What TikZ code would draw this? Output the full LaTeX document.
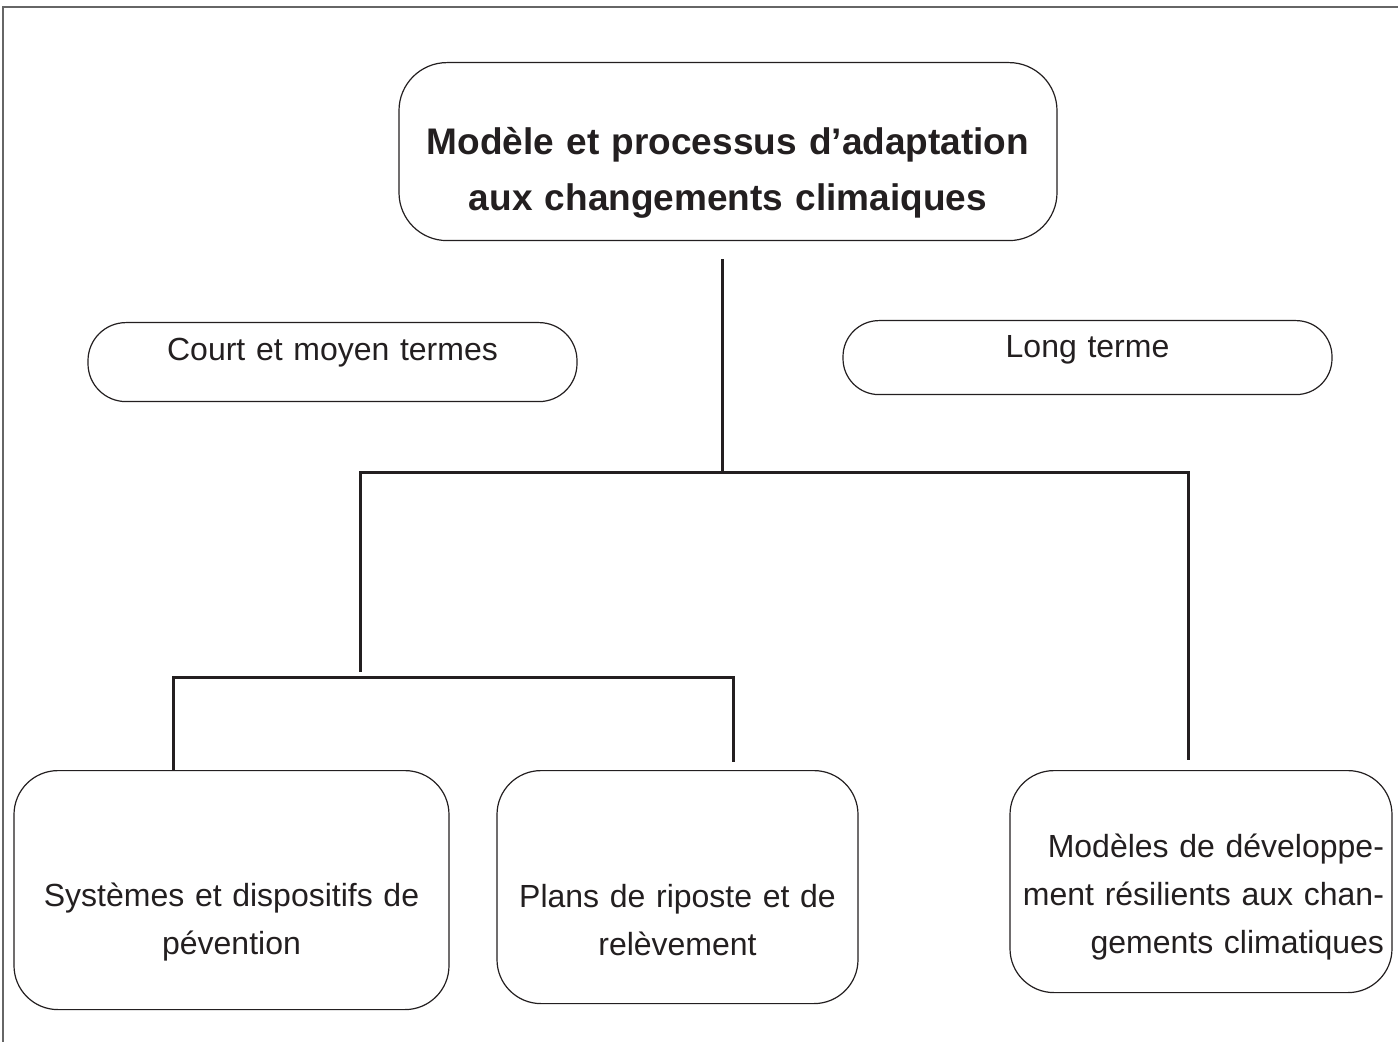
\documentclass[tikz,border=0pt]{standalone}
\usepackage{fontspec}
\setmainfont{Liberation Sans}
\usepackage{tikz}
\usetikzlibrary{calc,positioning}
\definecolor{ink}{HTML}{231F20}
\tikzset{>=latex}
\tikzset{
  frame/.style={draw=black!60, line width=1pt},
  link/.style={draw=ink, line width=1.5pt},
  box/.style={draw=ink, text=ink, line width=0.6pt, rounded corners=22pt,
    inner xsep=4pt, inner ysep=0pt, anchor=north, align=center,
    font=\fontsize{16}{24}\selectfont},
}

\begin{document}
\begin{tikzpicture}[x=0.5pt,y=-0.5pt]
    \useasboundingbox (0,0) rectangle (1398,1042);
    \draw[frame] (3,1042) -- (3,7) -- (1398,7);
    % boxes
    \node[box, rounded corners=24pt, text width=321pt, text height=46pt, text depth=43pt,
      font=\fontsize{18.5}{28}\selectfont\bfseries] (title) at (728,62)
      {Modèle et processus d’adaptation\\ aux changements climaiques};
    \node[box, rounded corners=19pt, text width=236.5pt, text height=19pt, text depth=20.5pt] (court) at (332.5,322)
      {Court et moyen termes};
    \node[box, rounded corners=18pt, text width=236.5pt, text height=18.5pt, text depth=18.5pt] (long) at (1087.5,320)
      {Long terme};
    \node[box, text width=209.5pt, text height=68pt, text depth=51.5pt] (sys) at (231.5,770)
      {Systèmes et dispositifs de\\ pévention};
    \node[box, text width=172.5pt, text height=68.5pt, text depth=48pt] (plans) at (677.5,770)
      {Plans de riposte et de\\ relèvement};
    \node[box, align=right, text width=183pt, text height=43.5pt, text depth=67.5pt] (model) at (1201,770)
      {Modèles de développe-\\ ment résilients aux chan-\\ gements climatiques};
    % connectors
    \coordinate (hub) at (722,473);
    \coordinate (forkL) at (360,473);
    \coordinate (forkR) at (1188,473);
    \coordinate (sub) at (360,672);
    \coordinate (subL) at (173,678);
    \coordinate (subR) at (733,678);
    \draw[link] ($(title.south)+(-6,18)$) -- (hub);
    \draw[link] (sub) -- (forkL) -- (forkR) -- ($(model.north)+(-13,-10)$);
    \draw[link] ($(sys.north)+(-58.5,0)$) -- (subL) -- (subR) -- ($(plans.north)+(55.5,-8)$);
\end{tikzpicture}
\end{document}
